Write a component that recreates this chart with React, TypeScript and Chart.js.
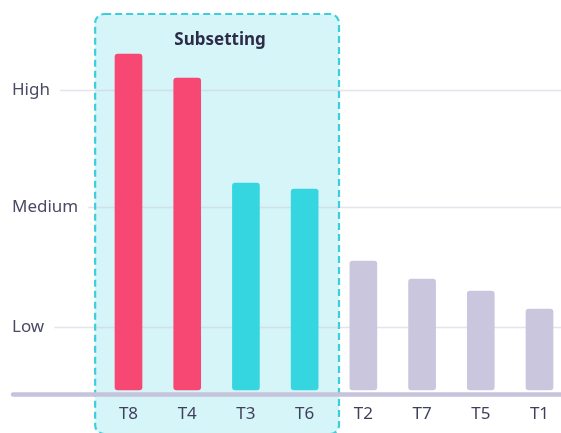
import React, { useEffect, useRef } from "react";
import { Chart, registerables } from "chart.js";

Chart.register(...registerables);

// Tasks, ordered by score
const categories = ["T8", "T4", "T3", "T6", "T2", "T7", "T5", "T1"];
const scores = [112, 104, 69, 67, 43, 37, 33, 27];
// Which group each task falls into
const groups = ["top", "top", "mid", "mid", "rest", "rest", "rest", "rest"];
// Level markers on the score axis
const levelValues = [21, 61, 100];
const levelLabels = ["Low", "Medium", "High"];
// Tasks inside the highlighted subset (first..last index)
const subsetRange = [0, 3];
const subsetTitle = "Subsetting";

const FONT = "'Noto Sans', 'Open Sans', sans-serif";
const groupColors: Record<string, string> = {
  top: "#f64872",
  mid: "#35d6df",
  rest: "#c9c6de",
};

const decorPlugin = {
  id: "decor",
  beforeDraw(chart: any) {
    const { ctx, scales, chartArea } = chart;
    const x = scales.x;
    const y = scales.y;
    const step = x.getPixelForValue(1) - x.getPixelForValue(0);
    const left = x.getPixelForValue(subsetRange[0]) - step / 2 - 4;
    const right = x.getPixelForValue(subsetRange[1]) + step / 2 + 5;
    const top = 14;
    const bottom = 434;

    ctx.save();
    // subset background
    ctx.beginPath();
    ctx.roundRect(left, top, right - left, bottom - top, 9);
    ctx.fillStyle = "#d5f5f8";
    ctx.fill();

    // level gridlines and labels
    ctx.font = `17px ${FONT}`;
    ctx.textBaseline = "middle";
    ctx.textAlign = "left";
    levelValues.forEach((v, i) => {
      const py = Math.round(y.getPixelForValue(v)) + 0.5;
      const label = levelLabels[i];
      const w = ctx.measureText(label).width;
      ctx.fillStyle = "#4a4a66";
      ctx.fillText(label, 12, py);
      ctx.beginPath();
      ctx.moveTo(12 + w + 10, py);
      ctx.lineTo(chart.width, py);
      ctx.strokeStyle = "rgba(205, 205, 222, 0.55)";
      ctx.lineWidth = 1.5;
      ctx.stroke();
    });

    // dashed subset border
    ctx.beginPath();
    ctx.roundRect(left, top, right - left, bottom - top, 9);
    ctx.setLineDash([7, 4]);
    ctx.strokeStyle = "#3ccfdb";
    ctx.lineWidth = 2.2;
    ctx.stroke();
    ctx.setLineDash([]);

    // subset title
    ctx.font = `bold 17px ${FONT}`;
    ctx.textAlign = "center";
    ctx.fillStyle = "#2c2c48";
    ctx.fillText(subsetTitle, (left + right) / 2 + 3, 40);

    // baseline
    ctx.beginPath();
    ctx.moveTo(13, chartArea.bottom + 4.5);
    ctx.lineTo(chart.width, chartArea.bottom + 4.5);
    ctx.strokeStyle = "#c6c4dc";
    ctx.lineWidth = 4.5;
    ctx.lineCap = "round";
    ctx.stroke();
    ctx.restore();
  },
};

export default function App() {
  const canvasRef = useRef<HTMLCanvasElement | null>(null);

  useEffect(() => {
    const canvas = canvasRef.current;
    if (!canvas) return;
    const chart = new Chart(canvas, {
      type: "bar",
      data: {
        labels: categories,
        datasets: [
          {
            data: scores,
            backgroundColor: groups.map((g) => groupColors[g]),
            borderRadius: 3,
            borderSkipped: false,
            barThickness: 27,
            clip: false,
          },
        ],
      },
      options: {
        animation: false,
        responsive: false,
        devicePixelRatio: 1,
        layout: { padding: { left: 128.5, right: 21.5, top: 0, bottom: 0 } },
        plugins: {
          legend: { display: false },
          tooltip: { enabled: false },
        },
        scales: {
          x: {
            offset: false,
            grid: { display: false, drawTicks: false },
            border: { display: false },
            ticks: {
              color: "#3f3f5c",
              font: { family: FONT, size: 17 },
              padding: 14,
              maxRotation: 0,
              autoSkip: false,
            },
            afterFit: (scale: any) => {
              scale.height = 43;
              scale.paddingLeft = 0;
              scale.paddingRight = 0;
            },
          },
          y: {
            display: false,
            min: 0,
            max: 130,
          },
        },
      },
      plugins: [decorPlugin],
    });
    return () => chart.destroy();
  }, []);

  return (
    <div style={{ position: "fixed", left: 0, top: 0, width: 561, height: 433, background: "#fff" }}>
      <canvas ref={canvasRef} width={561} height={433} style={{ width: 561, height: 433, display: "block" }} />
    </div>
  );
}
